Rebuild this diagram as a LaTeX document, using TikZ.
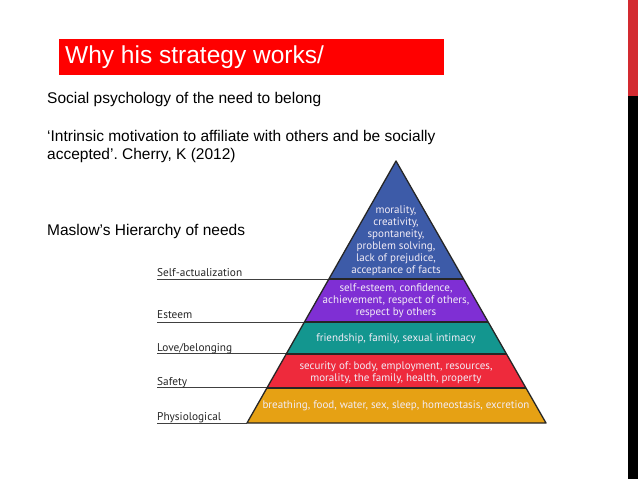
\documentclass[tikz,border=0pt]{standalone}
\usepackage{fontspec}
\setmainfont{Liberation Sans}
\newfontfamily\pyrfont{PT Sans}
\usetikzlibrary{calc}
\frenchspacing
\definecolor{titlered}{HTML}{FF0000}
\definecolor{barred}{HTML}{D32A30}
\definecolor{cblue}{HTML}{3D5BA8}
\definecolor{cpurple}{HTML}{7F2FD4}
\definecolor{cteal}{HTML}{13968F}
\definecolor{cred}{HTML}{EE2A3C}
\definecolor{corange}{HTML}{E6A114}
\definecolor{pyrtext}{HTML}{F2ECF6}
\begin{document}
\begin{tikzpicture}[x=1pt,y=-1pt,
  body/.style={anchor=base west, font=\fontsize{15.5}{18}\selectfont, inner sep=0},
  lvl/.style={anchor=base west, font=\pyrfont\fontsize{11.3}{13}\selectfont, inner sep=0, text=black!85},
  inside/.style={align=center, font=\pyrfont\fontsize{11}{12}\selectfont, text=pyrtext, inner sep=0},
  layer/.style={draw=black!85, line width=1.3pt, line join=round},
  guide/.style={draw=black!75, line width=1pt}]
\useasboundingbox (0,0) rectangle (638,479);
\fill[white] (0,0) rectangle (638,479);
% right edge bar
\fill[barred] (628,0) rectangle (638,96);
\fill[black] (628,96) rectangle (638,479);
% title
\node[fill=titlered, minimum width=385pt, minimum height=36pt, anchor=north west, inner sep=0] (titlebox) at (59,39) {};
\node[anchor=west, text=white, font=\fontsize{24.5}{28}\selectfont, inner sep=0] (titletext) at (65,57) {Why his strategy works/};
% body text
\node[body] (t1) at (47,103) {Social psychology of the need to belong};
\node[body] (t2) at (47,141) {‘Intrinsic motivation to affiliate with others and be socially};
\node[body] (t3) at (47,159) {accepted’. Cherry, K (2012)};
\node[body] (t4) at (47,235) {Maslow’s Hierarchy of needs};
% pyramid geometry
\coordinate (apex) at (396,161);
\coordinate (bl) at (247,423);
\coordinate (br) at (546,423);
\coordinate (l1) at ($(apex)!0.4504!(bl)$); \coordinate (r1) at ($(apex)!0.4504!(br)$);
\coordinate (l2) at ($(apex)!0.6145!(bl)$); \coordinate (r2) at ($(apex)!0.6145!(br)$);
\coordinate (l3) at ($(apex)!0.7366!(bl)$); \coordinate (r3) at ($(apex)!0.7366!(br)$);
\coordinate (l4) at ($(apex)!0.8664!(bl)$); \coordinate (r4) at ($(apex)!0.8664!(br)$);
\fill[cblue] (apex) -- (r1) -- (l1) -- cycle;
\fill[cpurple] (l1) -- (r1) -- (r2) -- (l2) -- cycle;
\fill[cteal] (l2) -- (r2) -- (r3) -- (l3) -- cycle;
\fill[cred] (l3) -- (r3) -- (r4) -- (l4) -- cycle;
\fill[corange] (l4) -- (r4) -- (br) -- (bl) -- cycle;
% guide lines
\coordinate (g0) at (157,0);
\draw[guide] (l1 -| g0) -- (l1);
\draw[guide] (l2 -| g0) -- (l2);
\draw[guide] (l3 -| g0) -- (l3);
\draw[guide] (l4 -| g0) -- (l4);
\draw[guide] (bl -| g0) -- (bl);
% layer separators and outline
\draw[layer] (l1) -- (r1);
\draw[layer] (l2) -- (r2);
\draw[layer] (l3) -- (r3);
\draw[layer] (l4) -- (r4);
\draw[layer] (apex) -- (br) -- (bl) -- cycle;
% level labels
\node[lvl] (lab1) at (157,276) {Self-actualization};
\node[lvl] (lab2) at (157,318) {Esteem};
\node[lvl] (lab3) at (157,351) {Love/belonging};
\node[lvl] (lab4) at (157,385) {Safety};
\node[lvl] (lab5) at (157,420) {Physiological};
% inside texts
\node[inside] (in1) at (396,241) {morality,\\creativity,\\spontaneity,\\problem solving,\\lack of prejudice,\\acceptance of facts};
\node[inside] (in2) at (396,301) {self-esteem, confidence,\\achievement, respect of others,\\respect by others};
\node[inside] (in3) at (396,339) {friendship, family, sexual intimacy};
\node[inside] (in4) at (396,373) {security of: body, employment, resources,\\morality, the family, health, property};
\node[inside] (in5) at (396,406) {breathing, food, water, sex, sleep, homeostasis, excretion};
\end{tikzpicture}
\end{document}
